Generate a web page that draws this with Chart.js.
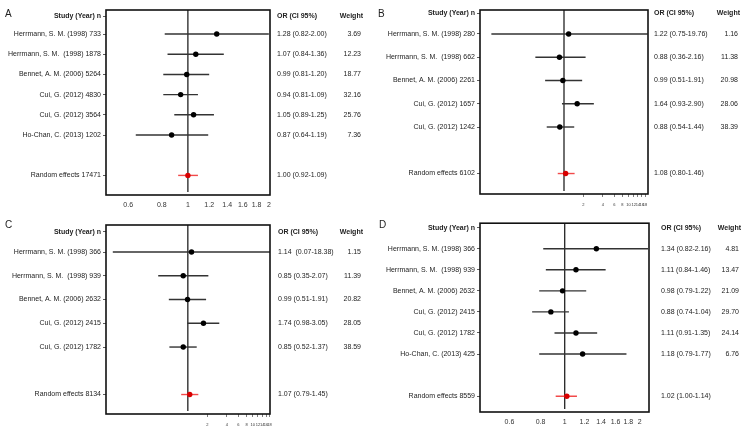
<!DOCTYPE html>
<html>
<head>
<meta charset="utf-8">
<script src="https://cdn.jsdelivr.net/npm/chart.js@4.4.0/dist/chart.umd.min.js"></script>
<style>
  body { margin: 0; background: #fff; width: 750px; height: 434px; position: relative; overflow: hidden; font-family: 'Liberation Sans', Arial, sans-serif; }
  .panel { position: absolute; width: 375px; height: 217px; }
  .tag { position: absolute; font-size: 10px; line-height: 1; color: #222; }
</style>
</head>
<body>
<div class="panel" style="left:0;top:0"><canvas id="chartA" width="375" height="217"></canvas></div>
<div class="panel" style="left:375px;top:0"><canvas id="chartB" width="375" height="217"></canvas></div>
<div class="panel" style="left:0;top:217px"><canvas id="chartC" width="375" height="217"></canvas></div>
<div class="panel" style="left:375px;top:217px"><canvas id="chartD" width="375" height="217"></canvas></div>
<span class="tag" style="left:5px;top:9px">A</span>
<span class="tag" style="left:378px;top:9px">B</span>
<span class="tag" style="left:5px;top:220px">C</span>
<span class="tag" style="left:379px;top:220px">D</span>
<script>
// ---- Panel A ----
const studiesA = ['Herrmann, S. M. (1998) 733', 'Herrmann, S. M.  (1998) 1878', 'Bennet, A. M. (2006) 5264', 'Cui, G. (2012) 4830', 'Cui, G. (2012) 3564', 'Ho-Chan, C. (2013) 1202'];
const orA = [1.28, 1.07, 0.99, 0.94, 1.05, 0.87];
const loA = [0.82, 0.84, 0.81, 0.81, 0.89, 0.64];
const hiA = [2.00, 1.36, 1.20, 1.09, 1.25, 1.19];
const ciTextA = ['1.28 (0.82-2.00)', '1.07 (0.84-1.36)', '0.99 (0.81-1.20)', '0.94 (0.81-1.09)', '1.05 (0.89-1.25)', '0.87 (0.64-1.19)'];
const weightA = ['3.69', '12.23', '18.77', '32.16', '25.76', '7.36'];
const pooledA = { label: 'Random effects 17471', or: 1.00, lo: 0.92, hi: 1.09, text: '1.00 (0.92-1.09)' };
const ticksA = [0.6, 0.8, 1, 1.2, 1.4, 1.6, 1.8, 2];

// ---- Panel B ----
const studiesB = ['Herrmann, S. M. (1998) 280', 'Herrmann, S. M.  (1998) 662', 'Bennet, A. M. (2006) 2261', 'Cui, G. (2012) 1657', 'Cui, G. (2012) 1242'];
const orB = [1.18, 0.85, 0.96, 1.60, 0.86];
const loB = [0.075, 0.36, 0.51, 0.93, 0.54];
const hiB = [19.76, 2.16, 1.91, 2.90, 1.44];
const ciTextB = ['1.22 (0.75-19.76)', '0.88 (0.36-2.16)', '0.99 (0.51-1.91)', '1.64 (0.93-2.90)', '0.88 (0.54-1.44)'];
const weightB = ['1.16', '11.38', '20.98', '28.06', '38.39'];
const pooledB = { label: 'Random effects 6102', or: 1.06, lo: 0.80, hi: 1.46, text: '1.08 (0.80-1.46)' };
const ticksB = [2, 4, 6, 8, 10, 12, 14, 16, 18];

// ---- Panel C ----
const studiesC = ['Herrmann, S. M. (1998) 366', 'Herrmann, S. M.  (1998) 939', 'Bennet, A. M. (2006) 2632', 'Cui, G. (2012) 2415', 'Cui, G. (2012) 1782'];
const orC = [1.14, 0.85, 0.99, 1.74, 0.85];
const loC = [0.07, 0.35, 0.51, 0.98, 0.52];
const hiC = [18.38, 2.07, 1.91, 3.05, 1.37];
const ciTextC = ['1.14  (0.07-18.38)', '0.85 (0.35-2.07)', '0.99 (0.51-1.91)', '1.74 (0.98-3.05)', '0.85 (0.52-1.37)'];
const weightC = ['1.15', '11.39', '20.82', '28.05', '38.59'];
const pooledC = { label: 'Random effects 8134', or: 1.07, lo: 0.79, hi: 1.45, text: '1.07 (0.79-1.45)' };
const ticksC = [2, 4, 6, 8, 10, 12, 14, 16, 18];

// ---- Panel D ----
const studiesD = ['Herrmann, S. M. (1998) 366', 'Herrmann, S. M.  (1998) 939', 'Bennet, A. M. (2006) 2632', 'Cui, G. (2012) 2415', 'Cui, G. (2012) 1782', 'Ho-Chan, C. (2013) 425'];
const orD = [1.34, 1.11, 0.98, 0.88, 1.11, 1.18];
const loD = [0.82, 0.84, 0.79, 0.74, 0.91, 0.79];
const hiD = [2.16, 1.46, 1.22, 1.04, 1.35, 1.77];
const ciTextD = ['1.34 (0.82-2.16)', '1.11 (0.84-1.46)', '0.98 (0.79-1.22)', '0.88 (0.74-1.04)', '1.11 (0.91-1.35)', '1.18 (0.79-1.77)'];
const weightD = ['4.81', '13.47', '21.09', '29.70', '24.14', '6.76'];
const pooledD = { label: 'Random effects 8559', or: 1.02, lo: 0.92, hi: 1.12, text: '1.02 (1.00-1.14)' };
const ticksD = [0.6, 0.8, 1, 1.2, 1.4, 1.6, 1.8, 2];

const FONT = "'Liberation Sans', Arial, sans-serif";
const NULL_OR = 1;

// draws the null line, the frame and the OR / weight columns
const forestDecor = {
  id: 'forestDecor',
  beforeDatasetsDraw(chart) {
    const { ctx, chartArea: a, scales: { x } } = chart;
    const px = x.getPixelForValue(NULL_OR);
    ctx.save();
    ctx.strokeStyle = '#222';
    ctx.lineWidth = 1.3;
    ctx.beginPath();
    ctx.moveTo(px, a.top);
    ctx.lineTo(px, a.bottom - 3);
    ctx.stroke();
    ctx.restore();
  },
  afterDraw(chart, args, opts) {
    const { ctx, chartArea: a, scales: { y } } = chart;
    ctx.save();
    ctx.strokeStyle = '#111';
    ctx.lineWidth = 1.6;
    ctx.strokeRect(a.left, a.top, a.right - a.left, a.bottom - a.top);

    const orX = a.right + opts.orGap;
    const wX = a.right + opts.wGap;
    ctx.fillStyle = '#222';
    ctx.textBaseline = 'middle';
    ctx.font = 'bold 7px ' + FONT;
    const hy = y.getPixelForValue(opts.headerSlot);
    ctx.textAlign = 'left';
    ctx.fillText('OR (CI 95%)', orX, hy);
    ctx.textAlign = 'right';
    ctx.fillText('Weight', wX + 2, hy);

    ctx.font = '7px ' + FONT;
    opts.ciText.forEach((t, i) => {
      const py = y.getPixelForValue(i + 1);
      ctx.textAlign = 'left';
      ctx.fillText(t, orX, py);
      ctx.textAlign = 'right';
      ctx.fillText(opts.weights[i], wX, py);
    });
    ctx.textAlign = 'left';
    ctx.fillText(opts.pooled.text, orX, y.getPixelForValue(opts.ciText.length + 2));
    ctx.restore();
  }
};

function forestChart(id, p) {
  const n = p.studies.length;
  const pooledSlot = n + 2;
  const labelMap = { [p.headerSlot]: 'Study (Year) n' };
  p.studies.forEach((s, i) => { labelMap[i + 1] = s; });
  labelMap[pooledSlot] = p.pooled.label;
  const slots = [p.headerSlot, ...p.studies.map((_, i) => i + 1), pooledSlot];

  const datasets = [
    {
      data: p.or.map((v, i) => ({ x: v, y: i + 1 })),
      backgroundColor: '#000', borderWidth: 0, pointRadius: 2.7
    },
    {
      data: [{ x: p.pooled.or, y: pooledSlot }],
      backgroundColor: '#d80000', borderWidth: 0, pointRadius: 2.7
    },
    {
      data: [{ x: p.pooled.lo, y: pooledSlot }, { x: p.pooled.hi, y: pooledSlot }],
      showLine: true, borderColor: '#f24a4a', borderWidth: 1.4, pointRadius: 0
    }
  ];
  p.studies.forEach((_, i) => {
    datasets.push({
      data: [{ x: p.lo[i], y: i + 1 }, { x: p.hi[i], y: i + 1 }],
      showLine: true, borderColor: '#333', borderWidth: 1.4, pointRadius: 0
    });
  });

  return new Chart(document.getElementById(id), {
    type: 'scatter',
    data: { datasets },
    plugins: [forestDecor],
    options: {
      responsive: false,
      animation: false,
      layout: { padding: { top: p.box.top, right: 375 - p.box.right, left: 0, bottom: 0 } },
      plugins: {
        legend: { display: false },
        tooltip: { enabled: false },
        forestDecor: { orGap: p.orGap, wGap: p.wGap, ciText: p.ciText, weights: p.weights, pooled: p.pooled, headerSlot: p.headerSlot }
      },
      scales: {
        x: {
          type: 'logarithmic',
          min: p.xMin,
          max: p.xMax,
          afterBuildTicks: ax => { ax.ticks = p.ticks.map(v => ({ value: v })); },
          afterFit: ax => { ax.height = 217 - p.box.bottom; },
          border: { display: false },
          grid: { drawOnChartArea: false, drawTicks: p.tickMarks, tickLength: 3, color: '#444', lineWidth: 0.7 },
          ticks: {
            autoSkip: false, maxRotation: 0, padding: p.tickMarks ? 5 : 6,
            color: '#333', font: { family: FONT, size: p.tickSize },
            callback: v => String(v)
          }
        },
        y: {
          type: 'linear',
          reverse: true,
          min: p.yMin,
          max: p.yMax,
          afterBuildTicks: ax => { ax.ticks = slots.map(v => ({ value: v })); },
          afterFit: ax => { ax.width = p.box.left; },
          border: { display: false },
          grid: { drawOnChartArea: false, drawTicks: true, tickLength: 3, color: '#333', lineWidth: 0.8 },
          ticks: {
            autoSkip: false, padding: 2, color: '#222',
            font: c => ({ family: FONT, size: 7, weight: c.tick && c.tick.value === p.headerSlot ? 'bold' : 'normal' }),
            callback: v => labelMap[v]
          }
        }
      }
    }
  });
}

forestChart('chartA', {
  studies: studiesA, or: orA, lo: loA, hi: hiA, ciText: ciTextA, weights: weightA, pooled: pooledA, ticks: ticksA,
  box: { left: 106, right: 270, top: 10, bottom: 195 }, yMin: -0.19, yMax: 8.97, headerSlot: 0.11,
  xMin: 0.496, xMax: 2.02, tickMarks: false, tickSize: 7, orGap: 7, wGap: 91
});
forestChart('chartB', {
  studies: studiesB, or: orB, lo: loB, hi: hiB, ciText: ciTextB, weights: weightB, pooled: pooledB, ticks: ticksB,
  box: { left: 105, right: 273, top: 10, bottom: 194 }, yMin: -0.03, yMax: 7.88, headerSlot: 0.11,
  xMin: 0.05, xMax: 20, tickMarks: true, tickSize: 4, orGap: 6, wGap: 90
});
forestChart('chartC', {
  studies: studiesC, or: orC, lo: loC, hi: hiC, ciText: ciTextC, weights: weightC, pooled: pooledC, ticks: ticksC,
  box: { left: 106, right: 270, top: 8, bottom: 197 }, yMin: -0.14, yMax: 7.82, headerSlot: 0.14,
  xMin: 0.055, xMax: 18.4, tickMarks: true, tickSize: 4, orGap: 8, wGap: 91
});
forestChart('chartD', {
  studies: studiesD, or: orD, lo: loD, hi: hiD, ciText: ciTextD, weights: weightD, pooled: pooledD, ticks: ticksD,
  box: { left: 105, right: 274, top: 5, bottom: 195 }, yMin: -0.21, yMax: 8.75, headerSlot: 0,
  xMin: 0.457, xMax: 2.18, tickMarks: false, tickSize: 7, orGap: 12, wGap: 90
});
</script>
</body>
</html>
